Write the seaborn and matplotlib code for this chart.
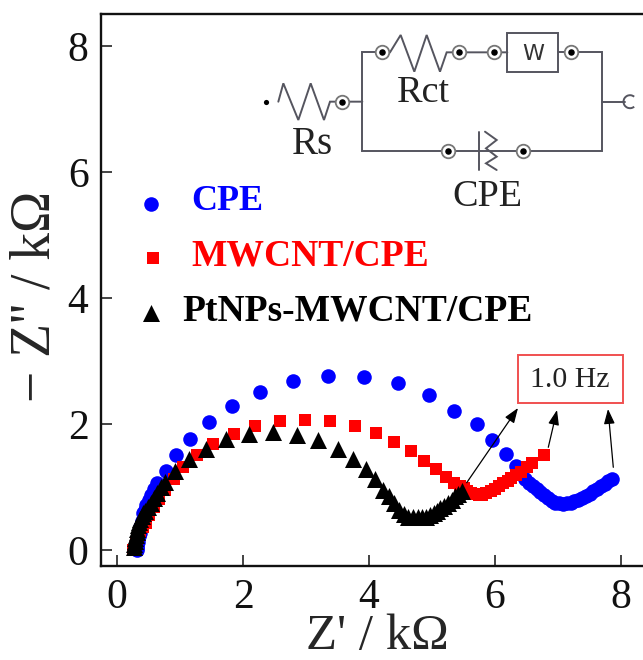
import pandas as pd
import matplotlib
matplotlib.use('Agg')
import matplotlib.pyplot as plt
from matplotlib.patches import Arc, Rectangle
import seaborn as sns

# Nyquist data (kOhm)
cpe_x = [0.31, 0.31, 0.32, 0.33, 0.34, 0.35, 0.36, 0.37, 0.39, 0.40, 0.42, 0.44, 0.46, 0.50, 0.535, 0.59, 0.64,
         0.77, 0.94, 1.16, 1.455, 1.83, 2.27, 2.79, 3.35, 3.92, 4.465, 4.95, 5.35, 5.71, 5.96, 6.17, 6.33,
         6.42, 6.48, 6.54, 6.60, 6.66, 6.72, 6.78, 6.84, 6.90, 6.96, 7.02, 7.08, 7.14, 7.20, 7.26, 7.32,
         7.38, 7.44, 7.50, 7.56, 7.62, 7.68, 7.74, 7.80, 7.85]
cpe_y = [0.00, 0.03, 0.07, 0.12, 0.19, 0.23, 0.27, 0.36, 0.41, 0.46, 0.58, 0.64, 0.71, 0.80, 0.88, 0.97, 1.06,
         1.26, 1.50, 1.76, 2.03, 2.29, 2.51, 2.68, 2.76, 2.75, 2.645, 2.46, 2.21, 2.00, 1.75, 1.52, 1.33,
         1.21, 1.13, 1.07, 1.02, 0.97, 0.92, 0.87, 0.82, 0.78, 0.75, 0.74, 0.73, 0.74, 0.75, 0.77, 0.79,
         0.82, 0.85, 0.89, 0.93, 0.97, 1.01, 1.05, 1.09, 1.12]
mwcnt_x = [0.26, 0.28, 0.30, 0.32, 0.34, 0.37, 0.41, 0.455, 0.51, 0.58, 0.67, 0.76, 0.905, 1.05, 1.27,
           1.53, 1.85, 2.19, 2.59, 2.98, 3.38, 3.77, 4.11, 4.40, 4.66, 4.88, 5.06, 5.22, 5.35,
           5.44, 5.50, 5.56, 5.62, 5.68, 5.74, 5.80, 5.86, 5.93, 6.00, 6.06, 6.13, 6.20, 6.26, 6.34, 6.41, 6.50, 6.58, 6.77]
mwcnt_y = [0.00, 0.04, 0.09, 0.15, 0.22, 0.29, 0.36, 0.43, 0.56, 0.68, 0.81, 0.95, 1.12, 1.31, 1.50,
           1.68, 1.84, 1.97, 2.05, 2.07, 2.05, 1.97, 1.85, 1.71, 1.57, 1.41, 1.28, 1.16, 1.06,
           1.01, 0.98, 0.94, 0.91, 0.89, 0.88, 0.88, 0.90, 0.93, 0.97, 1.01, 1.06, 1.10, 1.14, 1.19, 1.24, 1.31, 1.38, 1.50]
ptnp_x = [0.27, 0.27, 0.28, 0.29, 0.30, 0.31, 0.32, 0.33, 0.35, 0.37, 0.39, 0.42, 0.44, 0.49, 0.535, 0.59, 0.64,
          0.70, 0.76, 0.92, 1.14, 1.41, 1.73, 2.10, 2.47, 2.85, 3.19, 3.50, 3.75, 3.95, 4.10, 4.22, 4.31, 4.39,
          4.47, 4.55, 4.62, 4.70, 4.77, 4.84, 4.90, 4.97, 5.03, 5.08, 5.13, 5.19, 5.25, 5.31, 5.37, 5.42, 5.47]
ptnp_y = [0.05, 0.09, 0.14, 0.19, 0.24, 0.29, 0.34, 0.39, 0.44, 0.49, 0.54, 0.58, 0.62, 0.69, 0.74, 0.83, 0.91,
          1.00, 1.08, 1.26, 1.45, 1.61, 1.76, 1.84, 1.87, 1.83, 1.74, 1.60, 1.44, 1.29, 1.12, 0.96, 0.85, 0.74,
          0.63, 0.57, 0.53, 0.52, 0.52, 0.52, 0.53, 0.55, 0.58, 0.62, 0.66, 0.70, 0.75, 0.80, 0.85, 0.89, 0.93]

names = ['CPE', 'MWCNT/CPE', 'PtNPs-MWCNT/CPE']
colors = {'CPE': '#0000FF', 'MWCNT/CPE': '#FF0000', 'PtNPs-MWCNT/CPE': '#000000'}
markers = {'CPE': 'o', 'MWCNT/CPE': 's', 'PtNPs-MWCNT/CPE': '^'}
sizes = {'CPE': 110, 'MWCNT/CPE': 85, 'PtNPs-MWCNT/CPE': 150}
xticks = [0, 2, 4, 6, 8]
yticks = [0, 2, 4, 6, 8]

df = pd.concat([
    pd.DataFrame({'x': cpe_x, 'y': cpe_y, 'electrode': names[0]}),
    pd.DataFrame({'x': mwcnt_x, 'y': mwcnt_y, 'electrode': names[1]}),
    pd.DataFrame({'x': ptnp_x, 'y': ptnp_y, 'electrode': names[2]}),
])

sns.set_theme(style='white')
plt.rcParams['font.family'] = ['Liberation Serif', 'DejaVu Serif']
W, H = 643, 660
fig = plt.figure(figsize=(W / 100, H / 100), dpi=100, facecolor='white')
L, R, T, B = 101, 643, 14, 566
ax = fig.add_axes([L / W, 1 - B / H, (R - L) / W, (B - T) / H])

for name in names:
    sub = df[df['electrode'] == name]
    sns.scatterplot(data=sub, x='x', y='y', color=colors[name], marker=markers[name],
                    s=sizes[name], linewidth=0, ax=ax, legend=False)

ax.set_xlim(-0.254, 8.349)
ax.set_ylim(-0.254, 8.508)
ax.set_xticks(xticks)
ax.set_yticks(yticks)
ax.tick_params(axis='both', direction='in', length=8, width=1.1, labelsize=30, colors='#111111', left=True, bottom=True)
ax.tick_params(axis='x', pad=9)
ax.tick_params(axis='y', pad=9)
ax.set_xlabel("Z' / k\u03a9", fontsize=36.5, va='top')
ax.set_ylabel("\u2212 Z'' / k\u03a9", fontsize=40, va='center')
ax.xaxis.set_label_coords(0.51, -0.086)
ax.yaxis.set_label_coords(-0.12, 0.489)
for side in ['left', 'bottom', 'top']:
    ax.spines[side].set_linewidth(1.7)
    ax.spines[side].set_color('#111111')
ax.spines['right'].set_visible(False)

# overlay in pixel coords for the legend and circuit sketch
ov = fig.add_axes([0, 0, 1, 1])
ov.set_xlim(0, W)
ov.set_ylim(H, 0)
ov.axis('off')
ov.patch.set_alpha(0)

# legend
key_pos = [(151, 204), (153, 258), (151, 313)]
text_pos = [(191, 202), (191, 256), (182, 311)]
text_size = [26, 27, 27]
for name, kp, tp, fs in zip(names, key_pos, text_pos, text_size):
    ov.scatter(*kp, color=colors[name], marker=markers[name], s=sizes[name], linewidth=0)
    ov.text(tp[0], tp[1], name, color=colors[name], fontsize=fs, fontweight='bold', va='center', ha='left')

# 1.0 Hz box and arrows
ov.add_patch(Rectangle((517.5, 355), 105, 48, fill=False, edgecolor='#F05050', linewidth=1.4))
ov.text(570, 380, '1.0 Hz', fontsize=21.5, ha='center', va='center', color='#222222')
arrows = [((466.7, 482.7), (518, 408)), ((548.3, 447.3), (557, 410)), ((613.3, 467.3), (608, 409))]
for start, end in arrows:
    ov.annotate('', xy=end, xytext=start,
                arrowprops=dict(arrowstyle='-|>,head_length=0.6,head_width=0.22', color='black', lw=0.9,
                                mutation_scale=15, shrinkA=0, shrinkB=0))


# circuit, coordinates taken from the zoomed crop (3x, origin 250,20)
def px(pts):
    return [250 + p[0] / 3 for p in pts], [20 + p[1] / 3 for p in pts]


GREY = '#55555F'
wire = dict(color=GREY, lw=1.4, solid_joinstyle='miter')
paths = [
    [(85, 245), (100, 190), (145, 300), (182, 190), (222, 300), (240, 245), (277, 245), (337, 245)],
    [(380, 97), (337, 97), (337, 392), (1055, 392), (1055, 97), (963, 97)],
    [(397, 97), (420, 97), (452, 45), (493, 155), (530, 45), (570, 155), (590, 97), (733, 97), (772, 97)],
    [(925, 97), (963, 97)],
    [(1055, 245), (1125, 245)],
    [(688, 335), (688, 450)],
    [(705, 335), (740, 360), (708, 385), (740, 410), (708, 430), (740, 450)],
]
for p in paths:
    ov.plot(*px(p), **wire)
ov.add_patch(Rectangle((250 + 772 / 3, 20 + 40 / 3), 153 / 3, 115 / 3, fill=False, edgecolor=GREY, linewidth=1.4))
ov.add_patch(Arc((630, 101.7), 13, 13, theta1=50, theta2=310, color=GREY, lw=1.4))

terminals = [(277, 245), (397, 97), (627, 97), (733, 97), (963, 97), (593, 392), (820, 392)]
tx, ty = px(terminals)
ov.scatter(tx, ty, s=95, facecolor='white', edgecolor='#777777', linewidth=1.3, zorder=3)
ov.scatter(tx, ty, s=22, color='black', linewidth=0, zorder=4)
ov.scatter(266, 101.7, s=14, color='black', linewidth=0, zorder=4)

ov.text(312, 145, 'Rs', fontsize=28, ha='center', va='center', color='#222222')
ov.text(423, 93, 'Rct', fontsize=27.5, ha='center', va='center', color='#222222')
ov.text(487, 197, 'CPE', fontsize=27.5, ha='center', va='center', color='#222222')
ov.text(533, 54, 'W', fontsize=16, ha='center', va='center', color='#333333', family='DejaVu Sans')

plt.savefig('out.png', dpi=100)
